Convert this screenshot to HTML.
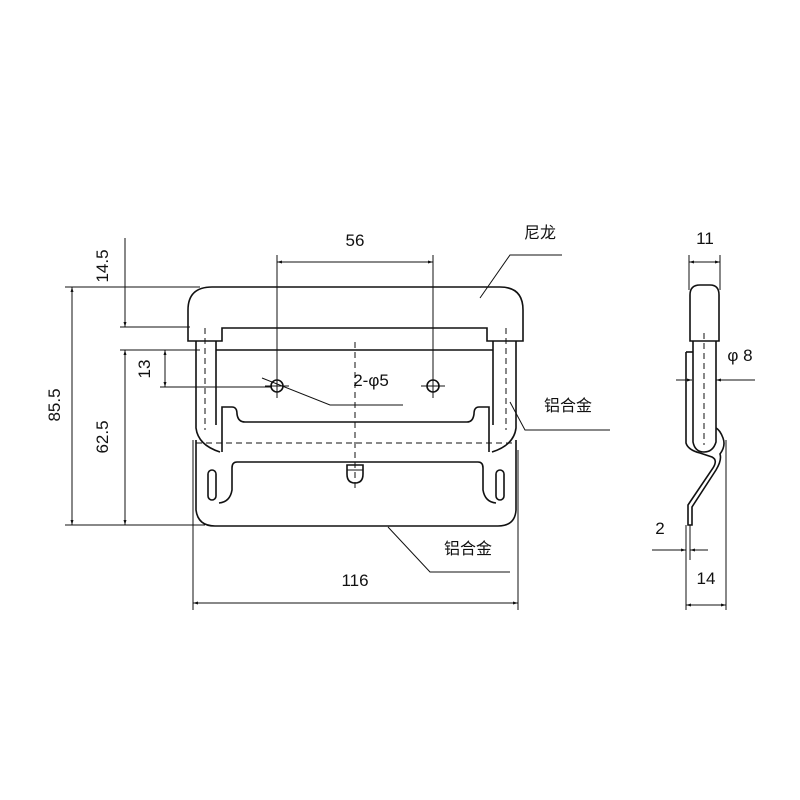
<!DOCTYPE html>
<html><head><meta charset="utf-8"><style>
html,body{margin:0;padding:0;background:#fff;}
svg{display:block}
text{font-family:"Liberation Sans","Noto Sans CJK SC",sans-serif;fill:#111;}
</style></head><body>
<svg width="800" height="800" viewBox="0 0 800 800" xmlns="http://www.w3.org/2000/svg">
<defs>
<marker id="a" viewBox="0 0 10 10" refX="10" refY="5" markerWidth="7" markerHeight="5" orient="auto-start-reverse"><path d="M0,2 L10,5 L0,8 z" fill="#111"/></marker>
</defs>
<g stroke="#111" fill="none" stroke-width="1">
<!-- extension lines -->
<line x1="65" y1="287" x2="200" y2="287"/>
<line x1="65" y1="525" x2="205" y2="525"/>
<line x1="120" y1="327" x2="190" y2="327"/>
<line x1="120" y1="350" x2="200" y2="350"/>
<line x1="160" y1="387" x2="272" y2="387"/>
<line x1="277" y1="255" x2="277" y2="398"/>
<line x1="433" y1="255" x2="433" y2="398"/>
<line x1="193" y1="440" x2="193" y2="610"/>
<line x1="518" y1="450" x2="518" y2="610"/>
<!-- dimension lines -->
<line x1="72" y1="287" x2="72" y2="525" marker-start="url(#a)" marker-end="url(#a)"/>
<line x1="125" y1="238" x2="125" y2="287" />
<line x1="125" y1="287" x2="125" y2="327" marker-end="url(#a)"/>
<line x1="125" y1="350" x2="125" y2="525" marker-start="url(#a)" marker-end="url(#a)"/>
<line x1="165" y1="350" x2="165" y2="387" marker-start="url(#a)" marker-end="url(#a)"/>
<line x1="277" y1="262" x2="433" y2="262" marker-start="url(#a)" marker-end="url(#a)"/>
<line x1="193" y1="603" x2="518" y2="603" marker-start="url(#a)" marker-end="url(#a)"/>
<!-- leaders -->
<polyline points="562,255 510,255 480,298"/>
<polyline points="610,430 525,430 510,402"/>
<polyline points="510,572 430,572 388,527"/>
<polyline points="403,405 330,405 262,378"/>
</g>
<g stroke="#111" fill="none" stroke-width="1.6">
<!-- nylon cap -->
<path d="M188,341 L188,310 Q188,287 212,287 L500,287 Q523,287 523,310 L523,341 L487,341 L487,328 L222,328 L222,341 Z"/>
<line x1="216" y1="350" x2="493" y2="350"/>
<!-- posts -->
<path d="M196,341 L196,428 Q198,445 220,452"/>
<path d="M216,341 L216,425"/>
<path d="M516,341 L516,428 Q514,445 492,452"/>
<path d="M493,341 L493,425"/>
<!-- upper bar -->
<path d="M222,452 L222,407 L232,407 Q237,407 237,414 Q238,422 245,422 L467,422 Q473,422 474,414 Q474,407 479,407 L489,407 L489,452"/>
<!-- bottom plate -->
<path d="M196,440 L196,510 Q198,526 215,526 L498,526 Q515,526 516,510 L516,440"/>
<path d="M237,462 L478,462 Q483,462 483,468 L483,490 Q485,502 496,503 M237,462 Q232,462 232,468 L232,490 Q230,502 219,503"/>
<rect x="208" y="470" width="8" height="30" rx="4"/>
<rect x="496" y="470" width="8" height="30" rx="4"/>
<path d="M347,465 L347,474 Q347,483 355,483 Q363,483 363,474 L363,465 Z"/>
<line x1="347" y1="470" x2="363" y2="470" stroke-width="1"/>
<circle cx="277" cy="386" r="6"/>
<circle cx="433" cy="386" r="6"/>
</g>
<g stroke="#111" fill="none" stroke-width="1" stroke-dasharray="6,4">
<line x1="205" y1="328" x2="205" y2="430"/>
<line x1="506" y1="328" x2="506" y2="430"/>
<line x1="196" y1="443" x2="516" y2="443"/>
<line x1="355" y1="342" x2="355" y2="490"/>
<line x1="704" y1="333" x2="704" y2="445"/>
</g>
<g stroke="#111" fill="none" stroke-width="1">
<line x1="265" y1="386" x2="289" y2="386"/><line x1="277" y1="376" x2="277" y2="396"/>
<line x1="421" y1="386" x2="445" y2="386"/><line x1="433" y1="376" x2="433" y2="396"/>
<!-- side view dims -->
<line x1="689" y1="255" x2="689" y2="290"/>
<line x1="720" y1="255" x2="720" y2="290"/>
<line x1="689" y1="262" x2="720" y2="262" marker-start="url(#a)" marker-end="url(#a)"/>
<line x1="676" y1="380" x2="692" y2="380" marker-end="url(#a)"/>
<line x1="755" y1="380" x2="716" y2="380" marker-end="url(#a)"/>
<line x1="652" y1="550" x2="686" y2="550" marker-end="url(#a)"/>
<line x1="708" y1="550" x2="690" y2="550" marker-end="url(#a)"/>
<line x1="686" y1="525" x2="686" y2="610"/>
<line x1="690" y1="525" x2="690" y2="560"/>
<line x1="726" y1="440" x2="726" y2="610"/>
<line x1="686" y1="605" x2="726" y2="605" marker-start="url(#a)" marker-end="url(#a)"/>
</g>
<g stroke="#111" fill="none" stroke-width="1.6">
<path d="M690,341 L690,295 Q690,285 700,285 L710,285 Q719,285 719,295 L719,341 Z"/>
<path d="M693,341 L693,442 Q695,452 704,452 Q713,452 716,442 L716,341"/>
<path d="M686,352 L686,443 Q688,450 700,453 L712,457 Q718,460 713,468 L690,502 L688,505 L688,525 L692,525 L692,507 L716,470 Q722,460 720,454 Q726,446 723,438 Q720,430 716,428"/>
<line x1="686" y1="352" x2="693" y2="352"/>
</g>
<g font-size="17">
<text x="355" y="246" text-anchor="middle">56</text>
<text x="355" y="586" text-anchor="middle">116</text>
<text x="705" y="244" text-anchor="middle">11</text>
<text x="706" y="584" text-anchor="middle">14</text>
<text x="660" y="534" text-anchor="middle">2</text>
<text x="740" y="361" text-anchor="middle">φ 8</text>
<text x="371" y="386" text-anchor="middle">2-φ5</text>
<text x="540" y="238" text-anchor="middle" font-size="16">尼龙</text>
<text x="568" y="411" text-anchor="middle" font-size="16">铝合金</text>
<text x="468" y="554" text-anchor="middle" font-size="16">铝合金</text>
<text transform="translate(108,266) rotate(-90)" text-anchor="middle">14.5</text>
<text transform="translate(60,405) rotate(-90)" text-anchor="middle">85.5</text>
<text transform="translate(108,437) rotate(-90)" text-anchor="middle">62.5</text>
<text transform="translate(150,369) rotate(-90)" text-anchor="middle">13</text>
</g>
</svg>
</body></html>
